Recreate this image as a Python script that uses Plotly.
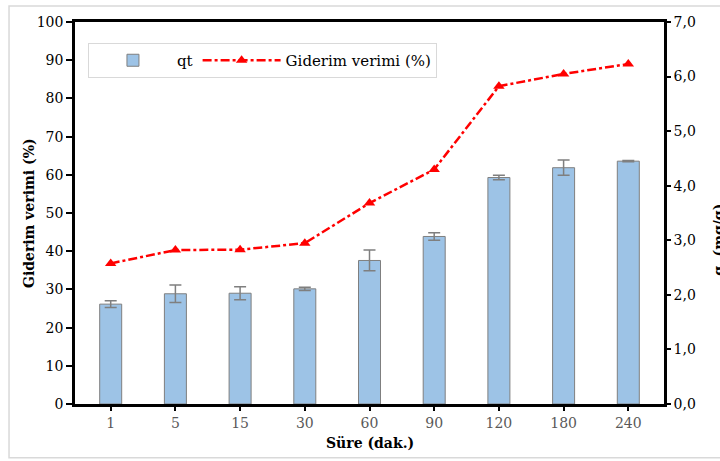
import plotly.graph_objects as go

time_labels = ["1", "5", "15", "30", "60", "90", "120", "180", "240"]
qt_values = [1.83, 2.02, 2.03, 2.11, 2.63, 3.07, 4.15, 4.33, 4.45]
qt_errors = [0.06, 0.16, 0.12, 0.03, 0.19, 0.07, 0.04, 0.14, 0.01]
removal_pct = [36.8, 40.3, 40.4, 42.1, 52.6, 61.4, 83.2, 86.4, 89.0]

left_ticks = list(range(0, 101, 10))
right_ticks = [0, 1, 2, 3, 4, 5, 6, 7]

FONT = "DejaVu Serif, serif"

fig = go.Figure()
fig.add_trace(go.Bar(
    x=time_labels, y=qt_values, name="qt", yaxis="y",
    width=0.34,
    marker=dict(color="#9DC3E6", line=dict(color="#7F7F7F", width=1)),
    error_y=dict(type="data", array=qt_errors, visible=True,
                 color="#7F7F7F", thickness=1.5, width=6),
))
fig.add_trace(go.Scatter(
    x=time_labels, y=removal_pct, name="Giderim verimi (%)", yaxis="y2",
    mode="lines+markers",
    line=dict(color="#FF0000", width=2.5, dash="dashdot"),
    marker=dict(symbol="triangle-up", size=10, color="#FF0000"),
))

fig.update_layout(
    width=720, height=461,
    margin=dict(l=75, r=56, t=22, b=57, autoexpand=False),
    paper_bgcolor="white", plot_bgcolor="white",
    font=dict(family=FONT, size=14, color="#000000"),
    separators=", ",
    showlegend=True,
    legend=dict(
        orientation="h", x=0.022, y=0.945, xanchor="left", yanchor="top",
        bgcolor="white", bordercolor="#D9D9D9", borderwidth=1,
        font=dict(family=FONT, size=15, color="#000000"),
        itemwidth=78, traceorder="normal",
    ),
    xaxis=dict(
        type="category", showline=True, linecolor="#000000", linewidth=2.5,
        mirror=True, ticks="outside", ticklen=4, tickwidth=1.5, tickcolor="#000000",
        tickfont=dict(family=FONT, size=14, color="#595959"),
        showgrid=False, zeroline=False, automargin=False,
    ),
    yaxis=dict(
        side="right", range=[0, 7], tickvals=right_ticks, tickformat=".1f",
        showline=True, linecolor="#000000", linewidth=2.5,
        ticks="outside", ticklen=4, tickwidth=1.5, tickcolor="#000000",
        tickfont=dict(family=FONT, size=14, color="#000000"),
        showgrid=False, zeroline=False, automargin=False,
    ),
    yaxis2=dict(
        side="left", overlaying="y", range=[0, 100], tickvals=left_ticks,
        showline=True, linecolor="#000000", linewidth=2.5,
        ticks="outside", ticklen=6, tickwidth=1.5, tickcolor="#000000",
        tickfont=dict(family=FONT, size=14, color="#000000"),
        showgrid=False, zeroline=False, automargin=False,
    ),
    annotations=[
        dict(text="<b>Giderim verimi (%)</b>", xref="paper", yref="paper",
             x=-0.078, y=0.5, textangle=-90, showarrow=False,
             xanchor="center", yanchor="middle",
             font=dict(family=FONT, size=14, color="#000000")),
        dict(text="<b>Süre (dak.)</b>", xref="paper", yref="paper",
             x=0.5, y=-0.102, showarrow=False, xanchor="center", yanchor="middle",
             font=dict(family=FONT, size=14, color="#000000")),
        dict(text="<b>q<sub>t</sub> (mg/g)</b>", xref="paper", yref="paper",
             x=1.095, y=0.43, textangle=-90, showarrow=False,
             xanchor="center", yanchor="middle",
             font=dict(family=FONT, size=14, color="#000000")),
    ],
    shapes=[
        dict(type="rect", xref="paper", yref="paper",
             x0=-0.112, x1=1.2, y0=-0.141, y1=1.042,
             line=dict(color="#D9D9D9", width=1.5), fillcolor="rgba(0,0,0,0)",
             layer="below"),
    ],
)

fig.write_html("out.html", config={"displayModeBar": False},
               post_script="document.body.style.margin='0px';")
